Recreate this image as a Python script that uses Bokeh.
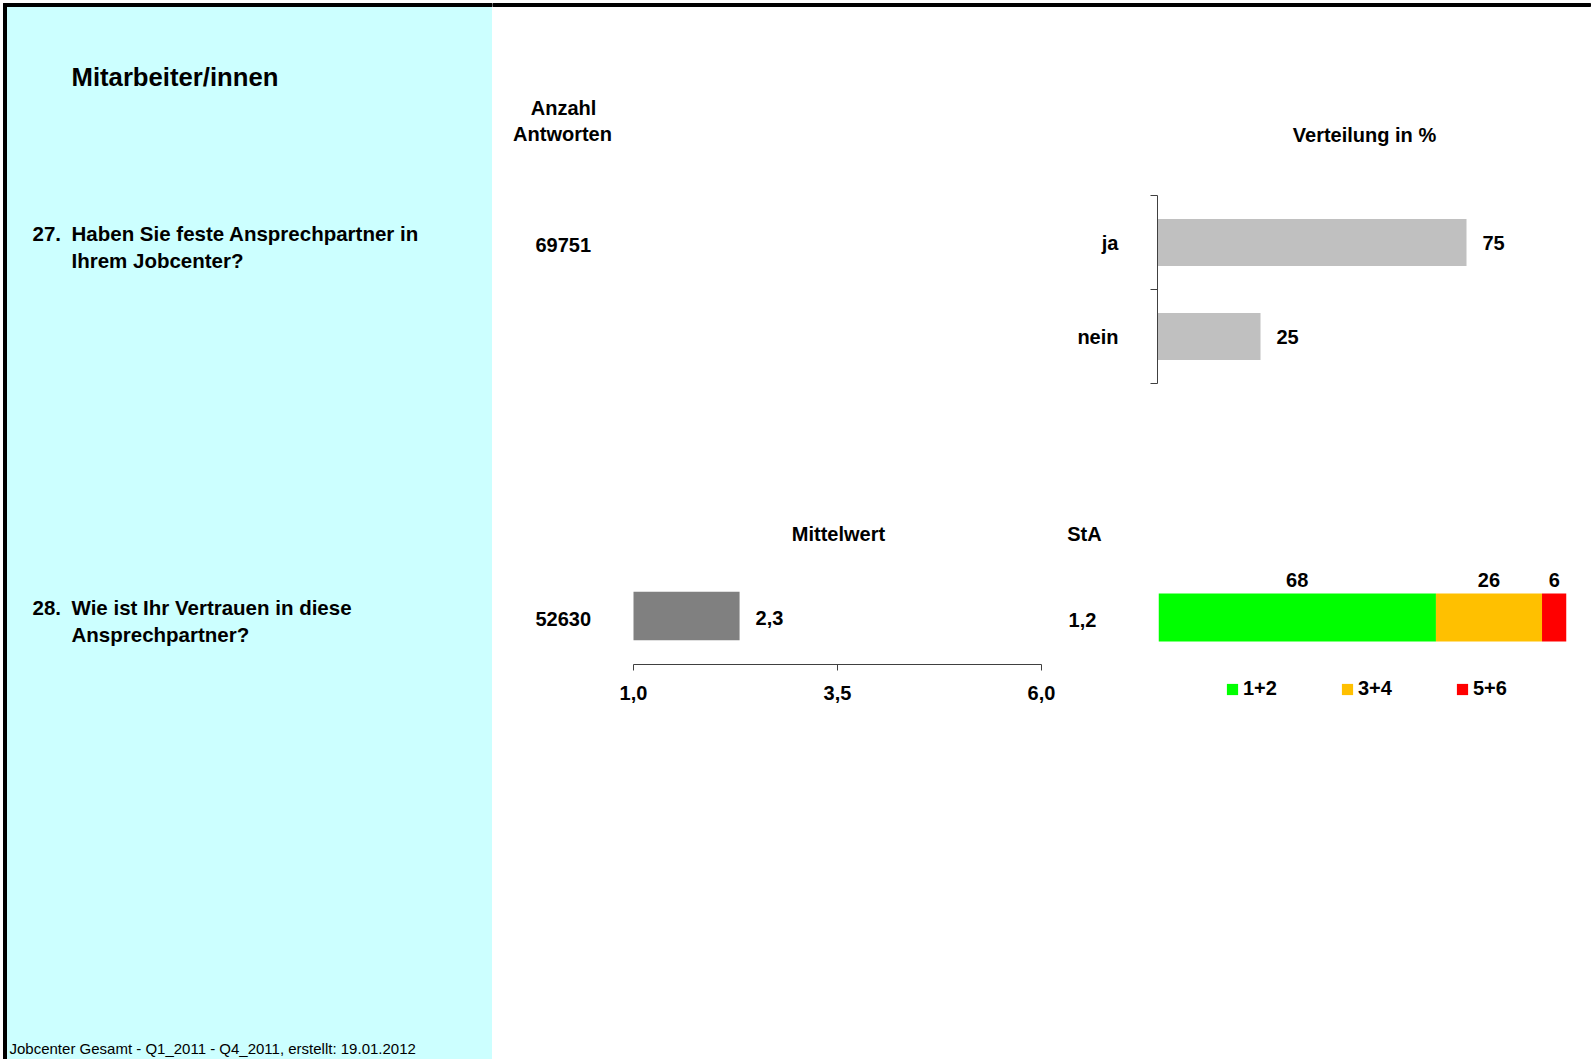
from bokeh.plotting import figure
from bokeh.models import (Range1d, LinearAxis, FixedTicker,
                          Legend, LegendItem, ColumnDataSource, CustomJSTickFormatter, Spacer)
from bokeh.layouts import row, column
from bokeh.embed import file_html
from bokeh.resources import INLINE
from bokeh.core.properties import value

# ---------------- data ----------------
title = "Mitarbeiter/innen"
q27_number = "27."
q27_lines = ["Haben Sie feste Ansprechpartner in", "Ihrem Jobcenter?"]
q28_number = "28."
q28_lines = ["Wie ist Ihr Vertrauen in diese", "Ansprechpartner?"]
footer = "Jobcenter Gesamt - Q1_2011 - Q4_2011, erstellt: 19.01.2012"
header_count = ["Anzahl", "Antworten"]
header_dist = "Verteilung in %"
header_mean = "Mittelwert"
header_std = "StA"

q27_categories = ["ja", "nein"]
q27_percent = [75, 25]
q27_answers = 69751

q28_answers = 52630
q28_mean = 2.3
q28_std = 1.2
q28_groups = ["1+2", "3+4", "5+6"]
q28_percent = [68, 26, 6]
q28_colors = ["#00FF00", "#FFC000", "#FF0000"]
mean_ticks = [1.0, 3.5, 6.0]

FONT = "Liberation Sans"
CYAN = "#CCFFFF"
AXIS = "#404040"
PX_PER_PCT = 309 / 75
PX_PER_MEAN = 408 / 5


def de(v):
    return f"{v:.1f}".replace(".", ",")


def canvas(x0, x1, y0, y1, bt=0, bb=0, bg="white"):
    """Text canvas whose data coordinates are page pixels (y downwards)."""
    p = figure(width=x1 - x0, height=y1 - y0, x_range=Range1d(x0, x1), y_range=Range1d(y1 - bb, y0 + bt),
               output_backend="svg", toolbar_location=None,
               min_border_left=0, min_border_right=0, min_border_top=bt, min_border_bottom=bb,
               x_axis_location=None, y_axis_location=None)
    p.grid.visible = False
    p.outline_line_color = None
    p.background_fill_color = bg
    p.border_fill_color = bg
    return p


def txt(p, x, y, s, size="20px", bold=True, align="left"):
    p.text(x=[x], y=[y], text=[s], text_font=value(FONT), text_font_size=size,
           text_font_style="bold" if bold else "normal", text_align=align,
           text_baseline="middle", text_color="black")


def plain(p):
    p.grid.visible = False
    p.outline_line_color = None
    p.background_fill_color = "white"
    p.border_fill_color = "white"


# ---------------- left panel ----------------
L = canvas(0, 492, 0, 1059)
L.quad(left=[6], right=[492], top=[6], bottom=[1059], color=CYAN)
L.quad(left=[3], right=[6], top=[3], bottom=[1059], color="black")
L.quad(left=[3], right=[492], top=[3], bottom=[6], color="black")
txt(L, 71, 76, title, size="25.7px")
txt(L, 32, 233, q27_number, size="20.5px")
txt(L, 71, 233, q27_lines[0], size="20.5px")
txt(L, 71, 260, q27_lines[1], size="20.5px")
txt(L, 32, 607, q28_number, size="20.5px")
txt(L, 71, 607, q28_lines[0], size="20.5px")
txt(L, 71, 634, q28_lines[1], size="20.5px")
txt(L, 9, 1048, footer, size="15px", bold=False)

# ---------------- header ----------------
H1 = canvas(492, 1593, 0, 180)
H1.quad(left=[492], right=[1590], top=[3], bottom=[6], color="black")
txt(H1, 563, 107, header_count[0], align="center")
txt(H1, 562, 133, header_count[1], align="center")
txt(H1, 1364, 134, header_dist, align="center")

# ---------------- question 27 ----------------
R2_TOP, R2_BOT = 15, 17
T2 = canvas(492, 1057, 180, 400, bt=R2_TOP, bb=R2_BOT)
txt(T2, 535, 244, str(q27_answers))

n27 = len(q27_categories)
q27_pos = [n27 - 1 - i + 0.5 for i in range(n27)]  # category band centres (top = first)
B1 = figure(width=536, height=220, x_range=Range1d(0, 436 / PX_PER_PCT), y_range=Range1d(0, n27),
            output_backend="svg", toolbar_location=None,
            x_axis_location=None, y_axis_location=None,
            min_border_left=100, min_border_right=0, min_border_top=R2_TOP, min_border_bottom=R2_BOT)
plain(B1)
edge_axis = LinearAxis(ticker=FixedTicker(ticks=list(range(n27 + 1)), minor_ticks=[]),
                       major_tick_out=7, major_tick_in=0, minor_tick_out=0, minor_tick_in=0,
                       major_label_text_font_size="0px", major_label_text_color=None,
                       major_label_standoff=0,
                       axis_line_color=AXIS, major_tick_line_color=AXIS)
B1.add_layout(edge_axis, "left")
cat_axis = LinearAxis(ticker=FixedTicker(ticks=q27_pos, minor_ticks=[]),
                      formatter=CustomJSTickFormatter(args=dict(cats=q27_categories),
                                                      code="return cats[cats.length - 1 - Math.floor(tick)]"),
                      major_tick_out=0, major_tick_in=0, minor_tick_out=0, minor_tick_in=0,
                      axis_line_color=None, major_tick_line_color=None, major_label_standoff=32,
                      major_label_text_font=FONT, major_label_text_font_size="20px",
                      major_label_text_font_style="bold", major_label_text_color="black")
B1.add_layout(cat_axis, "left")
B1.hbar(y=q27_pos, left=0, right=q27_percent, height=0.5, fill_color="#C0C0C0", line_color=None)
B1.text(x=q27_percent, y=q27_pos, text=[str(v) for v in q27_percent], x_offset=16,
        text_font=value(FONT), text_font_size="20px", text_font_style="bold",
        text_align="left", text_baseline="middle", text_color="black")

# ---------------- headers question 28 ----------------
H3 = canvas(492, 1593, 400, 560)
txt(H3, 838, 533, header_mean, align="center")
txt(H3, 1084, 533, header_std, align="center")

# ---------------- question 28 ----------------
T4 = canvas(492, 600, 560, 720)
txt(T4, 535, 618, str(q28_answers))

# mean chart: scale 1..6 over 408 px, frame padded so the scale labels fit
M = figure(width=460, height=160,
           x_range=Range1d(mean_ticks[0] - 33 / PX_PER_MEAN, mean_ticks[-1] + 19 / PX_PER_MEAN),
           y_range=Range1d(720, 560),
           output_backend="svg", toolbar_location=None,
           x_axis_location=None, y_axis_location=None, min_border=0)
plain(M)
M.hbar(y=[615.5], left=[mean_ticks[0]], right=[q28_mean], height=48.5, fill_color="#808080", line_color=None)
M.text(x=[q28_mean], y=[617], text=[de(q28_mean)], x_offset=16,
       text_font=value(FONT), text_font_size="20px", text_font_style="bold",
       text_align="left", text_baseline="middle", text_color="black")
# scale line with ticks and labels
M.segment(x0=[mean_ticks[0]], x1=[mean_ticks[-1]], y0=[664], y1=[664], line_color=AXIS, line_width=1)
M.segment(x0=mean_ticks, x1=mean_ticks, y0=[664] * len(mean_ticks), y1=[670] * len(mean_ticks),
          line_color=AXIS, line_width=1)
M.text(x=mean_ticks, y=[692] * len(mean_ticks), text=[de(t) for t in mean_ticks],
       text_font=value(FONT), text_font_size="20px", text_font_style="bold",
       text_align="center", text_baseline="middle", text_color="black")

T4b = canvas(1060, 1140, 560, 720)
txt(T4b, 1082, 619, de(q28_std), align="center")

S = figure(width=453, height=160, x_range=Range1d(0, 100), y_range=Range1d(-103 / 48, 57 / 48),
           output_backend="svg", toolbar_location=None,
           x_axis_location=None, y_axis_location=None,
           min_border_left=18, min_border_right=27, min_border_top=0, min_border_bottom=0)
plain(S)
lefts = []
acc = 0
for v in q28_percent:
    lefts.append(acc)
    acc += v
rights = [l + v for l, v in zip(lefts, q28_percent)]
centers = [l + v / 2 for l, v in zip(lefts, q28_percent)]
src = ColumnDataSource(dict(y=[0] * len(q28_groups), left=lefts, right=rights, color=q28_colors,
                            center=centers, label=[str(v) for v in q28_percent]))
seg = S.hbar(y="y", left="left", right="right", height=1, fill_color="color", line_color=None, source=src)
S.text(x="center", y="y", text="label", y_offset=-38, source=src,
       text_font=value(FONT), text_font_size="20px", text_font_style="bold",
       text_align="center", text_baseline="middle", text_color="black")
legend = Legend(items=[LegendItem(label=g, renderers=[seg], index=i) for i, g in enumerate(q28_groups)],
                orientation="horizontal", location=(67, 20), glyph_width=14, glyph_height=14,
                label_standoff=4, spacing=63, padding=0, margin=0, border_line_color=None,
                background_fill_alpha=0, label_text_font=FONT, label_text_font_size="20px",
                label_text_font_style="bold", label_text_color="black", label_height=20)
S.add_layout(legend)

R5 = Spacer(width=1101, height=339)

layout = row(L, column(H1, row(T2, B1), H3, row(T4, M, T4b, S), R5))

open("out.html", "w").write(file_html(layout, INLINE))
